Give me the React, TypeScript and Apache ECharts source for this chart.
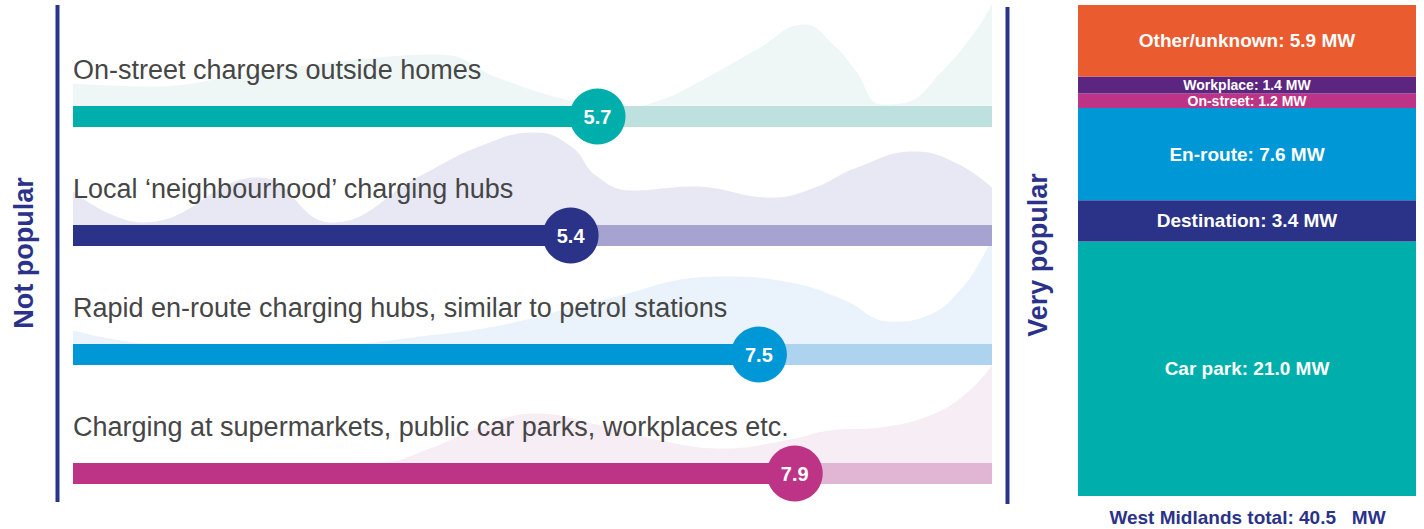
import React, { useEffect, useRef } from "react";
import * as echarts from "echarts";

// ---- Data -----------------------------------------------------------------
const rowLabels = [
  "On-street chargers outside homes",
  "Local \u2018neighbourhood\u2019 charging hubs",
  "Rapid en-route charging hubs, similar to petrol stations",
  "Charging at supermarkets, public car parks, workplaces etc.",
];
const meanScores = [5.7, 5.4, 7.5, 7.9];

// popularity score (x) vs. relative density of responses (y)
const densityOnStreet: [number, number][] = [
  [-0.15, 3.3], [0.71, 3.0], [1.82, 4.3], [2.94, 5.6], [3.94, 6.2], [4.61, 3.8],
  [5.34, 1.7], [5.93, 0.8], [6.42, 1.7], [6.88, 3.7], [7.48, 6.7], [8.0, 9.2],
  [8.35, 7.0], [8.57, 4.7], [8.87, 1.2], [9.14, 1.4], [9.51, 4.2], [9.89, 8.2], [10.1, 11.2],
];
const densityNeighbourhood: [number, number][] = [
  [-0.15, 4.4], [0.64, 1.3], [1.93, 5.8], [2.73, 1.3], [3.73, 6.0], [4.41, 9.0],
  [5.01, 10.3], [5.42, 8.8], [5.68, 6.0], [6.09, 4.5], [6.77, 4.9], [7.64, 3.8],
  [8.1, 4.7], [8.57, 6.7], [9.24, 8.4], [9.71, 7.2], [10.1, 4.8],
];
const densityEnRoute: [number, number][] = [
  [-0.15, 2.4], [0.26, 1.6], [0.71, 1.1], [1.82, 1.0], [2.94, 1.1], [3.72, 1.8],
  [4.61, 2.9], [5.73, 5.4], [7.07, 7.8], [7.85, 7.2], [8.44, 5.5], [8.97, 3.3],
  [9.41, 4.0], [9.75, 6.5], [10.0, 9.8], [10.1, 11.8],
];
const densityDestination: [number, number][] = [
  [-0.15, 1.0], [1.82, 1.0], [3.28, 1.1], [3.83, 2.5], [4.41, 4.7], [5.01, 6.0],
  [5.73, 4.8], [6.4, 3.3], [7.1, 2.5], [7.85, 3.4], [8.29, 4.3], [8.85, 4.6],
  [9.46, 6.0], [9.85, 8.3], [10.1, 10.8],
];
const densities = [densityOnStreet, densityNeighbourhood, densityEnRoute, densityDestination];

const scoreMin = -0.15;
const scoreMax = 10.1;
const densityMin = -3;

const capacityCategories = ["Car park", "Destination", "En-route", "On-street", "Workplace", "Other/unknown"];
const capacityMW = [21.0, 3.4, 7.6, 1.2, 1.4, 5.9];
const totalLabel = "West Midlands total: 40.5   MW";

// ---- Styles ---------------------------------------------------------------
const mainColors = ["#00afac", "#2a3388", "#0097d7", "#bd3385"];
const trackColors = ["#bee0df", "#a7a3d0", "#aed3ef", "#e1b6d4"];
const areaColors = ["#eff7f6", "#e8e8f4", "#eaf3fb", "#f7edf4"];
const capacityColors = ["#00afac", "#2a3388", "#0097d7", "#bd3385", "#5b2580", "#ea5b2f"];
const navy = "#2b3289";
const FONT = "'Liberation Sans', Arial, Helvetica, sans-serif";

const rowCenters = [116.5, 235.5, 354.5, 473.5];
const plotLeft = 73;
const plotWidth = 919;
const pxPerDensity = 10;
const densityPx = 160;

export default function App() {
  const ref = useRef<HTMLDivElement>(null);

  useEffect(() => {
    document.body.style.margin = "0";
    if (!ref.current) return;
    const chart = echarts.init(ref.current, undefined, { renderer: "svg" });

    const rowTops = rowCenters.map((c) => Math.max(0, c - densityPx));
    const belowPx = -densityMin * pxPerDensity;

    const grids: any[] = rowCenters.map((c, i) => ({
      left: plotLeft,
      width: plotWidth,
      top: rowTops[i],
      height: c - rowTops[i] + belowPx,
      containLabel: false,
    }));
    grids.push({ left: 1078, right: 8, top: 5, bottom: 33 });

    const xAxes: any[] = rowCenters.map((_, i) => ({
      type: "value",
      gridIndex: i,
      min: scoreMin,
      max: scoreMax,
      show: false,
    }));
    xAxes.push({ type: "category", gridIndex: 4, data: ["West Midlands"], show: false });

    const yAxes: any[] = rowCenters.map((c, i) => ({
      type: "value",
      gridIndex: i,
      min: densityMin,
      max: (c - rowTops[i]) / pxPerDensity,
      show: false,
    }));
    yAxes.push({ type: "value", gridIndex: 4, min: 0, max: capacityMW.reduce((a, b) => a + b, 0), show: false });

    const series: any[] = [];
    // background distributions (lower rows first so upper rows lie on top)
    for (let i = densities.length - 1; i >= 0; i--) {
      series.push({
        type: "line",
        xAxisIndex: i,
        yAxisIndex: i,
        data: densities[i],
        smooth: 0.45,
        symbol: "none",
        lineStyle: { width: 0 },
        areaStyle: { color: areaColors[i], opacity: 1 },
        silent: true,
        z: 1,
      });
    }
    rowCenters.forEach((_, i) => {
      series.push({
        type: "line",
        xAxisIndex: i,
        yAxisIndex: i,
        data: [[scoreMin, 0], [scoreMax, 0]],
        symbol: "none",
        lineStyle: { width: 21, color: trackColors[i], cap: "butt" },
        silent: true,
        z: 2,
      });
      series.push({
        type: "line",
        xAxisIndex: i,
        yAxisIndex: i,
        data: [[scoreMin, 0], [meanScores[i], 0]],
        symbol: "none",
        lineStyle: { width: 21, color: mainColors[i], cap: "butt" },
        silent: true,
        z: 3,
      });
      series.push({
        type: "scatter",
        xAxisIndex: i,
        yAxisIndex: i,
        data: [[meanScores[i], 0]],
        symbol: "circle",
        symbolSize: 56,
        clip: false,
        itemStyle: { color: mainColors[i], opacity: 1 },
        label: {
          show: true,
          position: "inside",
          formatter: () => meanScores[i].toFixed(1),
          color: "#ffffff",
          fontSize: 20,
          fontWeight: "bold",
          fontFamily: FONT,
        },
        silent: true,
        z: 4,
      });
    });
    capacityCategories.forEach((name, i) => {
      const small = capacityMW[i] < 2;
      series.push({
        type: "bar",
        name,
        xAxisIndex: 4,
        yAxisIndex: 4,
        stack: "capacity",
        barWidth: "100%",
        data: [capacityMW[i]],
        itemStyle: { color: capacityColors[i] },
        label: {
          show: true,
          position: "inside",
          formatter: `${name}: ${capacityMW[i].toFixed(1)} MW`,
          color: "#ffffff",
          fontSize: small ? 14 : 19,
          fontWeight: "bold",
          fontFamily: FONT,
          lineHeight: small ? 14 : 19,
        },
        silent: true,
      });
    });

    const graphics: any[] = [
      {
        type: "line",
        shape: { x1: 57.5, y1: 5, x2: 57.5, y2: 502 },
        style: { stroke: navy, lineWidth: 4 },
      },
      {
        type: "line",
        shape: { x1: 1007.5, y1: 7, x2: 1007.5, y2: 504 },
        style: { stroke: navy, lineWidth: 4 },
      },
      {
        type: "text",
        x: 23.5,
        y: 253,
        rotation: Math.PI / 2,
        style: {
          text: "Not popular",
          fill: navy,
          fontSize: 27,
          fontWeight: "bold",
          fontFamily: FONT,
          align: "center",
          verticalAlign: "middle",
        },
      },
      {
        type: "text",
        x: 1038,
        y: 255,
        rotation: Math.PI / 2,
        style: {
          text: "Very popular",
          fill: navy,
          fontSize: 27,
          fontWeight: "bold",
          fontFamily: FONT,
          align: "center",
          verticalAlign: "middle",
        },
      },
      {
        type: "text",
        x: 1247.5,
        y: 517,
        style: {
          text: totalLabel,
          fill: navy,
          fontSize: 19,
          fontWeight: "bold",
          fontFamily: FONT,
          align: "center",
          verticalAlign: "middle",
        },
      },
    ];
    rowLabels.forEach((t, i) => {
      graphics.push({
        type: "text",
        x: plotLeft,
        y: rowCenters[i] - 46.5,
        z: 10,
        style: {
          text: t,
          fill: "#464646",
          fontSize: 27,
          fontFamily: FONT,
          align: "left",
          verticalAlign: "middle",
        },
      });
    });

    chart.setOption({
      animation: false,
      backgroundColor: "#ffffff",
      grid: grids,
      xAxis: xAxes,
      yAxis: yAxes,
      series,
      graphic: graphics,
      tooltip: { show: false },
    });

    return () => chart.dispose();
  }, []);

  return <div ref={ref} style={{ width: 1424, height: 529 }} />;
}
